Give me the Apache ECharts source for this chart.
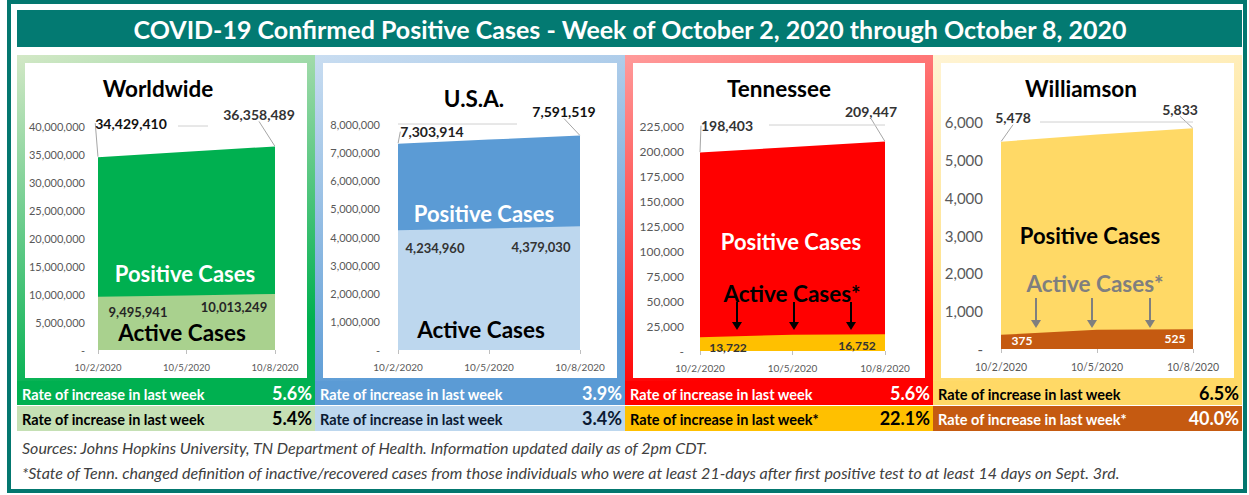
<!DOCTYPE html>
<html>
<head>
<meta charset="utf-8">
<script src="https://cdn.jsdelivr.net/npm/echarts@6/dist/echarts.min.js"></script>
<style>
  html, body { margin: 0; padding: 0; background: #fff; }
  #chart { width: 1249px; height: 495px; }
</style>
</head>
<body>
<div id="chart"></div>
<script>
// data
var dates = ['10/2/2020', '10/5/2020', '10/8/2020'];
var worldTotal = [34429410, 35390000, 36358489];
var worldActive = [9495941, 9750000, 10013249];
var usaTotal = [7303914, 7447000, 7591519];
var usaActive = [4234960, 4305000, 4379030];
var tnTotal = [198403, 204000, 209447];
var tnActive = [13722, 16300, 16752];
var wcTotal = [5478, 5670, 5833];
var wcActive = [375, 510, 525];

var panelNames = ['Worldwide', 'U.S.A.', 'Tennessee', 'Williamson'];
var totalRates = ['5.6%', '3.9%', '5.6%', '6.5%'];
var activeRates = ['5.4%', '3.4%', '22.1%', '40.0%'];
var totalRateText = ['Rate of increase in last week', 'Rate of increase in last week', 'Rate of increase in last week', 'Rate of increase in last week'];
var activeRateText = ['Rate of increase in last week', 'Rate of increase in last week', 'Rate of increase in last week*', 'Rate of increase in last week*'];
var yMax = [40000000, 8000000, 225000, 6000];
var yStep = [5000000, 1000000, 25000, 1000];

var FONT = 'Lato, "Open Sans", sans-serif';

// layout
var panels = [
    { x0: 17, x1: 315, grid: { left: 98, width: 177, top: 126, height: 224 }, yFont: 11, xFont: 9.5, yMargin: 13,
      total: worldTotal, active: worldActive, tColor: '#00b050', aColor: '#a9d18e',
      frameTop: '#d3e8c6', frameBot: '#00b050', row1: '#00b050', row2: '#c5e0b4',
      row1Text: '#fff', row2Text: '#000', titleY: 88, titleX: 158,
      tOff: [[33, -34], null, [-16, -32]], tLabelColor: ['#111', null, '#333'],
      aOff: [[40, 15], null, [-41, 13]], aLabelColor: '#262626', aFont: 13 },
    { x0: 315, x1: 625, grid: { left: 398, width: 182, top: 124, height: 226 }, yFont: 11, xFont: 10, yMargin: 18,
      total: usaTotal, active: usaActive, tColor: '#5b9bd5', aColor: '#bdd7ee',
      frameTop: '#c9ddf1', frameBot: '#5b9bd5', row1: '#5b9bd5', row2: '#bdd7ee',
      row1Text: '#fff', row2Text: '#0b1a33', titleY: 98, titleX: 474,
      tOff: [[34, -12], null, [-16, -24]], tLabelColor: ['#222', null, '#111'],
      aOff: [[37, 18], null, [-39, 21]], aLabelColor: '#333', aFont: 13 },
    { x0: 625, x1: 933, grid: { left: 700, width: 185, top: 126, height: 225 }, yFont: 12, xFont: 10, yMargin: 16,
      total: tnTotal, active: tnActive, tColor: '#ff0000', aColor: '#ffc000',
      frameTop: '#ff9b9b', frameBot: '#ff0000', row1: '#ff0000', row2: '#ffc000',
      row1Text: '#fff', row2Text: '#000', titleY: 88, titleX: 779,
      tOff: [[27, -27], null, [-14, -30]], tLabelColor: ['#333', null, '#333'],
      aOff: [[28, 10], null, [-28, 11]], aLabelColor: '#333', aFont: 12 },
    { x0: 933, x1: 1242, grid: { left: 1001, width: 192, top: 122, height: 227 }, yFont: 15, xFont: 10.5, yMargin: 18,
      total: wcTotal, active: wcActive, tColor: '#ffd966', aColor: '#c55a11',
      frameTop: '#fff4d4', frameBot: '#ffd966', row1: '#ffd966', row2: '#c55a11',
      row1Text: '#000', row2Text: '#fff', titleY: 88, titleX: 1081,
      tOff: [[12, -24], null, [-13, -19]], tLabelColor: ['#333', null, '#333'],
      aOff: [[21, 6], null, [-18, 9]], aLabelColor: '#fff', aFont: 12 }
];

function fmt(v) {
    return v.toLocaleString('en-US');
}

var grids = [], xAxes = [], yAxes = [], series = [], graphics = [];

// frame and title bar
graphics.push({ type: 'rect', shape: { x: 9, y: 2, width: 1236, height: 489 }, style: { fill: '#fff', stroke: '#03776f', lineWidth: 4 } });
graphics.push({ type: 'rect', shape: { x: 17, y: 10, width: 1225, height: 37 }, style: { fill: '#037a72' } });
graphics.push({ type: 'text', x: 630, y: 29, z: 10, style: { text: 'COVID-19 Confirmed Positive Cases - Week of October 2, 2020 through October 8, 2020', fill: '#fff', font: 'bold 25px ' + FONT, textAlign: 'center', textVerticalAlign: 'middle' } });

panels.forEach(function (p, i) {
    var w = p.x1 - p.x0;
    graphics.push({ type: 'rect', shape: { x: p.x0, y: 55, width: w, height: 326 },
        style: { fill: new echarts.graphic.LinearGradient(0, 0, 0.25, 1, [{ offset: 0, color: p.frameTop }, { offset: 1, color: p.frameBot }]) } });
    graphics.push({ type: 'rect', shape: { x: p.x0 + 8, y: 63, width: w - 16, height: 315 }, style: { fill: '#fff' } });
    graphics.push({ type: 'rect', shape: { x: p.x0, y: 381, width: w, height: 24 }, style: { fill: p.row1 } });
    graphics.push({ type: 'rect', shape: { x: p.x0, y: 406, width: w, height: 25 }, style: { fill: p.row2 } });
    graphics.push({ type: 'text', x: p.x0 + 5, y: 394, z: 10, style: { text: totalRateText[i], fill: p.row1Text, font: 'bold 14.5px ' + FONT, textAlign: 'left', textVerticalAlign: 'middle' } });
    graphics.push({ type: 'text', x: p.x1 - 3, y: 393, z: 10, style: { text: totalRates[i], fill: p.row1Text, font: 'bold 18px ' + FONT, textAlign: 'right', textVerticalAlign: 'middle' } });
    graphics.push({ type: 'text', x: p.x0 + 5, y: 419, z: 10, style: { text: activeRateText[i], fill: p.row2Text, font: 'bold 14.5px ' + FONT, textAlign: 'left', textVerticalAlign: 'middle' } });
    graphics.push({ type: 'text', x: p.x1 - 3, y: 418, z: 10, style: { text: activeRates[i], fill: p.row2Text, font: 'bold 18px ' + FONT, textAlign: 'right', textVerticalAlign: 'middle' } });
    graphics.push({ type: 'text', x: p.titleX, y: p.titleY, z: 10, style: { text: panelNames[i], fill: '#000', font: 'bold 22.5px ' + FONT, textAlign: 'center', textVerticalAlign: 'middle' } });

    grids.push(p.grid);
    xAxes.push({
        gridIndex: i, type: 'category', data: dates, boundaryGap: false,
        axisLine: { show: false },
        axisTick: { show: true, length: 4, lineStyle: { color: '#bfbfbf' } },
        axisLabel: { color: '#595959', fontSize: p.xFont, fontFamily: FONT, margin: 12 }
    });
    yAxes.push({
        gridIndex: i, type: 'value', min: 0, max: yMax[i], interval: yStep[i],
        axisLine: { show: false }, axisTick: { show: false }, splitLine: { show: false },
        axisLabel: { color: '#595959', fontSize: p.yFont, fontFamily: FONT, margin: p.yMargin,
            formatter: function (v) { return v === 0 ? '-' : fmt(v); } }
    });

    series.push({
        type: 'line', xAxisIndex: i, yAxisIndex: i, z: 2,
        data: p.total.map(function (v, k) {
            return { value: v, label: { show: k !== 1, color: p.tLabelColor[k] || '#333' } };
        }),
        symbol: 'circle', symbolSize: 1, itemStyle: { color: 'rgba(0,0,0,0)' },
        lineStyle: { width: 0 }, areaStyle: { color: p.tColor, opacity: 1 },
        label: { position: 'inside', fontSize: 14, fontWeight: 'bold', fontFamily: FONT,
            formatter: function (d) { return fmt(d.value); } },
        labelLine: { show: true, lineStyle: { color: '#a6a6a6', width: 1 } },
        labelLayout: function (params) {
            var o = p.tOff[params.dataIndex] || [0, 0];
            return { dx: o[0], dy: o[1] };
        },
        silent: true, animation: false
    });
    series.push({
        type: 'line', xAxisIndex: i, yAxisIndex: i, z: 3,
        data: p.active.map(function (v, k) {
            return { value: v, label: { show: k !== 1 } };
        }),
        symbol: 'circle', symbolSize: 1, itemStyle: { color: 'rgba(0,0,0,0)' },
        lineStyle: { width: 0 }, areaStyle: { color: p.aColor, opacity: 1 },
        label: { position: 'inside', fontSize: p.aFont, fontWeight: 'bold', fontFamily: FONT, color: p.aLabelColor,
            formatter: function (d) { return fmt(d.value); } },
        labelLayout: function (params) {
            var o = p.aOff[params.dataIndex] || [0, 0];
            return { dx: o[0], dy: o[1] };
        },
        silent: true, animation: false
    });
});

// annotation text inside the areas
function note(x, y, text, color, size) {
    graphics.push({ type: 'text', x: x, y: y, z: 10, style: { text: text, fill: color, font: 'bold ' + size + 'px ' + FONT, textAlign: 'center', textVerticalAlign: 'middle' } });
}
note(185, 273, 'Positive Cases', '#fff', 22);
note(182, 332, 'Active Cases', '#000', 22.5);
note(484, 213, 'Positive Cases', '#fff', 22);
note(481, 329, 'Active Cases', '#000', 22.5);
note(791, 241, 'Positive Cases', '#fff', 22);
note(792, 293, 'Active Cases*', '#000', 22.5);
note(1090, 235, 'Positive Cases', '#000', 22);
note(1095, 283, 'Active Cases*', '#7f7f7f', 22.5);

function arrow(x, y1, y2, color) {
    graphics.push({ type: 'line', z: 10, shape: { x1: x, y1: y1, x2: x, y2: y2 - 6 }, style: { stroke: color, lineWidth: 2 } });
    graphics.push({ type: 'polygon', z: 10, shape: { points: [[x - 5, y2 - 8], [x + 5, y2 - 8], [x, y2]] }, style: { fill: color } });
}
[737, 794, 851].forEach(function (x) { arrow(x, 302, 330, '#000'); });
[1036, 1092, 1150].forEach(function (x) { arrow(x, 298, 328, '#7f7f7f'); });

// stray leader lines in the source
[[178, 126, 208, 126], [398, 124, 517, 124], [769, 125, 885, 125], [1040, 122, 1193, 122]].forEach(function (l) {
    graphics.push({ type: 'line', z: 10, shape: { x1: l[0], y1: l[1], x2: l[2], y2: l[3] }, style: { stroke: '#d0d0d0', lineWidth: 1 } });
});

// footnotes
graphics.push({ type: 'text', x: 22, y: 447, z: 10, style: { text: 'Sources: Johns Hopkins University, TN Department of Health. Information updated daily as of 2pm CDT.', fill: '#404040', font: 'italic 16px ' + FONT, textAlign: 'left', textVerticalAlign: 'middle' } });
graphics.push({ type: 'text', x: 22, y: 472, z: 10, style: { text: '*State of Tenn. changed definition of inactive/recovered cases from those individuals who were at least 21-days after first positive test to at least 14 days on Sept. 3rd.', fill: '#404040', font: 'italic 16px ' + FONT, textAlign: 'left', textVerticalAlign: 'middle' } });

var chart = echarts.init(document.getElementById('chart'), null, { renderer: 'svg' });
chart.setOption({
    animation: false,
    graphic: { elements: graphics },
    grid: grids,
    xAxis: xAxes,
    yAxis: yAxes,
    series: series
});
</script>
</body>
</html>
